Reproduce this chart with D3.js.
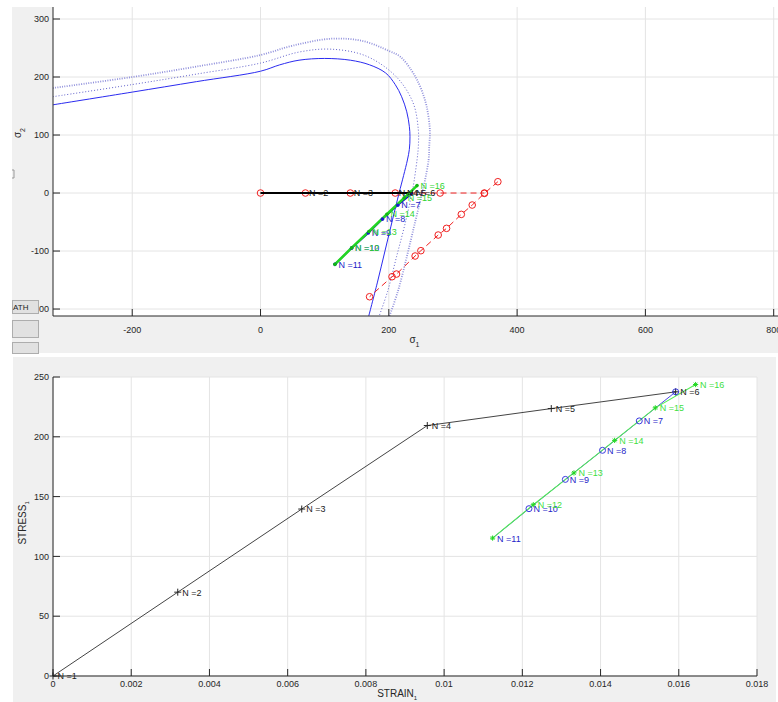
<!DOCTYPE html>
<html><head><meta charset="utf-8">
<script src="https://cdn.jsdelivr.net/npm/d3@7"></script>
<style>body{margin:0;background:#fff;} svg{display:block;font-family:"Liberation Sans",Arial,Helvetica,sans-serif;}</style>
</head><body><svg id="c" width="778" height="702"></svg>
<script>
// ---------------- DATA ----------------
// Top panel: yield surfaces in (sigma1, sigma2)
const yieldSolidS1 = [-324,-200,-100,0,30,60,100,140,170,195,210,220,228,232,233,232,229,223,216,206,194,182,168];
const yieldSolidS2 = [152,174,192,210,221,229,232,229,221,207,187,166,140,115,97,75,57,30,0,-45,-100,-155,-215];
const yieldInnerS1 = [-324,-200,-100,0,60,110,165,212,238,246,246,244,238,236,226,212,198,184];
const yieldInnerS2 = [166,187,205,224,243,248,236,200,155,109,80,57,11,0,-50,-110,-170,-215];
const yieldOuterS1 = [-324,-200,-100,0,50,110,160,200,218,235,244,252,259,264,263,262,256,252,241,228,214,200];
const yieldOuterS2 = [181,200,218,238,254,266,262,245,235,212,195,175,149,109,80,57,20,0,-50,-110,-170,-215];
// Trial (red dashed) paths
const redHS1 = [0,70,140,210,280,349];
const redHS2 = [0,0,0,0,0,0];
const redDS1 = [370,349,330,313,290,277,250,241,212,205,170];
const redDS2 = [19.5,-0.6,-20.7,-36.8,-60.9,-72.4,-99.4,-108.6,-139.7,-144.3,-178.8];
// Stress path in sigma-space
const blackN = [1,2,3,4,5,6];
const blackS1 = [0,70,140,210,223,237];
const blackS2 = [0,0,0,0,0,0];
const blueN = [6,7,8,9,10,11];
const blueS1 = [237,214,190,168,142,116];
const blueS2 = [0,-21,-45,-69,-95,-123];
const greenN = [11,12,13,14,15,16];
const greenS1 = [116,142,169,197,224,244];
const greenS2 = [-123,-94.6,-66.2,-36.7,-8.3,12.8];
// Bottom panel: stress-strain
const strainBlack = [0,0.00319,0.00636,0.00957,0.01274,0.01592];
const stressBlack = [0,70.1,139.6,209.4,223.6,237.6];
const strainBlue = [0.01592,0.01499,0.01405,0.0131,0.01217,0.01124];
const stressBlue = [237.6,213.3,188.7,164.4,139.9,115.3];
const strainGreen = [0.01124,0.01228,0.01332,0.01436,0.0154,0.01643];
const stressGreen = [115.3,143.2,169.8,197,224.2,243.7];
// Ticks
const s1Ticks = [-200,0,200,400,600,800];
const s2Ticks = [-200,-100,0,100,200,300];
const strainTicks = [0,0.002,0.004,0.006,0.008,0.01,0.012,0.014,0.016,0.018];
const strainTickLabels = ["0","0.002","0.004","0.006","0.008","0.01","0.012","0.014","0.016","0.018"];
const stressTicks = [0,50,100,150,200,250];

// ---------------- DRAW ----------------
const svg = d3.select("#c");
const AX = "#262626", GRID = "#e4e4e4", BG = "#f0f0f0";
const zip = (a,b)=>a.map((v,i)=>[v,b[i]]);

// backgrounds
svg.append("rect").attr("x",12).attr("y",7).attr("width",766).attr("height",346).attr("fill",BG);
svg.append("rect").attr("x",13).attr("y",357).attr("width",763).attr("height",345).attr("fill",BG);

// ===== TOP PANEL =====
const T = {l:53, r:778, t:7, b:316};
const x1 = d3.scaleLinear().domain([-323.5, 806.7]).range([T.l, T.r]);
const y1 = d3.scaleLinear().domain([-212, 320.7]).range([T.b, T.t]);
svg.append("rect").attr("x",T.l).attr("y",T.t).attr("width",T.r-T.l).attr("height",T.b-T.t).attr("fill","#fff");
svg.append("defs").append("clipPath").attr("id","clipT").append("rect")
  .attr("x",T.l).attr("y",T.t).attr("width",T.r-T.l).attr("height",T.b-T.t);
const gT = svg.append("g");
// grid
gT.selectAll(".gx").data(s1Ticks).enter().append("line")
  .attr("x1",d=>x1(d)).attr("x2",d=>x1(d)).attr("y1",T.t).attr("y2",T.b).attr("stroke",GRID);
gT.selectAll(".gy").data(s2Ticks).enter().append("line")
  .attr("x1",T.l).attr("x2",T.r).attr("y1",d=>y1(d)).attr("y2",d=>y1(d)).attr("stroke",GRID);

const pT = svg.append("g").attr("clip-path","url(#clipT)");
const lineT = d3.line().x(d=>x1(d[0])).y(d=>y1(d[1]));
const curveT = d3.line().x(d=>x1(d[0])).y(d=>y1(d[1])).curve(d3.curveCatmullRom.alpha(0.5));
// yield surfaces
pT.append("path").attr("d",curveT(zip(yieldOuterS1,yieldOuterS2))).attr("fill","none")
  .attr("stroke","#9191dc").attr("stroke-width",1.8).attr("stroke-dasharray","1,1.4");
pT.append("path").attr("d",curveT(zip(yieldInnerS1,yieldInnerS2))).attr("fill","none")
  .attr("stroke","#6262cc").attr("stroke-width",1).attr("stroke-dasharray","1,2");
pT.append("path").attr("d",curveT(zip(yieldSolidS1,yieldSolidS2))).attr("fill","none")
  .attr("stroke","#2b2bf0").attr("stroke-width",1);
// red trial paths
const RED = "#f02020";
pT.append("path").attr("d",lineT(zip(redHS1,redHS2))).attr("fill","none")
  .attr("stroke",RED).attr("stroke-width",1).attr("stroke-dasharray","6,4");
pT.append("path").attr("d",lineT(zip(redDS1,redDS2))).attr("fill","none")
  .attr("stroke",RED).attr("stroke-width",1).attr("stroke-dasharray","6,4");
pT.selectAll(".rc").data(zip(redHS1,redHS2).concat(zip(redDS1,redDS2))).enter().append("circle")
  .attr("cx",d=>x1(d[0])).attr("cy",d=>y1(d[1])).attr("r",3.3)
  .attr("fill","none").attr("stroke",RED).attr("stroke-width",1);
// black path
pT.append("path").attr("d",lineT(zip(blackS1,blackS2))).attr("fill","none")
  .attr("stroke","#000").attr("stroke-width",2);
// blue path
pT.append("path").attr("d",lineT(zip(blueS1,blueS2))).attr("fill","none")
  .attr("stroke","#1010c8").attr("stroke-width",1.6);
// green path
pT.append("path").attr("d",lineT(zip(greenS1,greenS2))).attr("fill","none")
  .attr("stroke","#22d622").attr("stroke-width",2.6);
// markers
pT.selectAll(".bd").data(zip(blueS1,blueS2).slice(1)).enter().append("circle")
  .attr("cx",d=>x1(d[0])).attr("cy",d=>y1(d[1])).attr("r",1.8).attr("fill","#1a1ad0");
pT.selectAll(".gd").data(zip(greenS1,greenS2)).enter().append("circle")
  .attr("cx",d=>x1(d[0])).attr("cy",d=>y1(d[1])).attr("r",1.8).attr("fill","#12b812");
// labels
function labelsT(S1,S2,N,from,color){
  for(let i=from;i<N.length;i++){
    pT.append("text").attr("x",x1(S1[i])+3.5).attr("y",y1(S2[i])).attr("dy","0.35em")
      .attr("font-size",9).attr("fill",color).text("N ="+N[i]);
  }
}
labelsT(blackS1,blackS2,blackN,1,"#111");
labelsT(blueS1,blueS2,blueN,1,"#2020c8");
labelsT(greenS1,greenS2,greenN,1,"#2ed42e");

// axes
svg.append("line").attr("x1",T.l).attr("x2",T.r).attr("y1",T.b).attr("y2",T.b).attr("stroke",AX);
svg.append("line").attr("x1",T.l).attr("x2",T.l).attr("y1",T.t).attr("y2",T.b).attr("stroke",AX);
svg.selectAll(".tx1").data(s1Ticks).enter().append("line")
  .attr("x1",d=>x1(d)).attr("x2",d=>x1(d)).attr("y1",T.b).attr("y2",T.b-7).attr("stroke",AX);
svg.selectAll(".ty1").data(s2Ticks).enter().append("line")
  .attr("x1",T.l).attr("x2",T.l+7).attr("y1",d=>y1(d)).attr("y2",d=>y1(d)).attr("stroke",AX);
svg.selectAll(".lx1").data(s1Ticks).enter().append("text")
  .attr("x",d=>x1(d)).attr("y",T.b+17).attr("text-anchor","middle").attr("font-size",9).attr("fill",AX).text(d=>d);
svg.selectAll(".ly1").data(s2Ticks).enter().append("text")
  .attr("x",T.l-4).attr("y",d=>y1(d)).attr("dy","0.35em").attr("text-anchor","end").attr("font-size",9).attr("fill",AX).text(d=>d);
// axis labels
const xl1 = svg.append("text").attr("x",x1(240)).attr("y",343).attr("text-anchor","middle").attr("font-size",10).attr("fill",AX);
xl1.append("tspan").text("σ");
xl1.append("tspan").attr("dy",4).attr("font-size",7).text("1");
const yl1 = svg.append("text").attr("transform",`translate(21,133) rotate(-90)`).attr("text-anchor","middle").attr("font-size",10).attr("fill",AX);
yl1.append("tspan").text("σ");
yl1.append("tspan").attr("dy",4).attr("font-size",7).text("2");

// UI buttons on left strip
svg.append("path").attr("d","M12,170 H14 V178 H12").attr("fill","none").attr("stroke","#999");
const btns = [[300,13],[320,17],[342,11]];
btns.forEach((b,i)=>{
  svg.append("rect").attr("x",12.5).attr("y",b[0]+0.5).attr("width",26).attr("height",b[1])
    .attr("fill","#e1e1e1").attr("stroke","#adadad");
});
svg.append("text").attr("x",13).attr("y",309.5).attr("font-size",8).attr("fill","#222").text("ATH");

// ===== BOTTOM PANEL =====
const B = {l:53, r:757, t:377, b:676};
const x2 = d3.scaleLinear().domain([0,0.018]).range([B.l,B.r]);
const y2 = d3.scaleLinear().domain([0,250]).range([B.b,B.t]);
svg.append("rect").attr("x",B.l).attr("y",B.t).attr("width",B.r-B.l).attr("height",B.b-B.t).attr("fill","#fff");
svg.selectAll(".gx2").data(strainTicks).enter().append("line")
  .attr("x1",d=>x2(d)).attr("x2",d=>x2(d)).attr("y1",B.t).attr("y2",B.b).attr("stroke",GRID);
svg.selectAll(".gy2").data(stressTicks).enter().append("line")
  .attr("x1",B.l).attr("x2",B.r).attr("y1",d=>y2(d)).attr("y2",d=>y2(d)).attr("stroke",GRID);
const lineB = d3.line().x(d=>x2(d[0])).y(d=>y2(d[1]));
svg.append("path").attr("d",lineB(zip(strainBlack,stressBlack))).attr("fill","none").attr("stroke","#444").attr("stroke-width",1);
svg.append("path").attr("d",lineB(zip(strainBlue,stressBlue))).attr("fill","none").attr("stroke","#4a4ae8").attr("stroke-width",1);
svg.append("path").attr("d",lineB(zip(strainGreen,stressGreen))).attr("fill","none").attr("stroke","#55ee55").attr("stroke-width",1.1);
// markers
zip(strainBlack,stressBlack).forEach(d=>{
  const px=x2(d[0]), py=y2(d[1]);
  svg.append("path").attr("d",`M${px-3.5},${py}H${px+3.5}M${px},${py-3.5}V${py+3.5}`).attr("stroke","#222").attr("stroke-width",1);
});
zip(strainBlue,stressBlue).slice(0,5).forEach(d=>{
  svg.append("circle").attr("cx",x2(d[0])).attr("cy",y2(d[1])).attr("r",3).attr("fill","none").attr("stroke","#3a3ae0").attr("stroke-width",1);
});
zip(strainGreen,stressGreen).forEach(d=>{
  const px=x2(d[0]), py=y2(d[1]), s=2.6;
  svg.append("path").attr("d",`M${px-s},${py}H${px+s}M${px},${py-s}V${py+s}M${px-s*0.7},${py-s*0.7}L${px+s*0.7},${py+s*0.7}M${px-s*0.7},${py+s*0.7}L${px+s*0.7},${py-s*0.7}`)
    .attr("stroke","#22d822").attr("stroke-width",1);
});
function labelsB(X,Y,N,from,to,color){
  for(let i=from;i<to;i++){
    svg.append("text").attr("x",x2(X[i])+4.5).attr("y",y2(Y[i])).attr("dy","0.38em")
      .attr("font-size",9).attr("fill",color).text("N ="+N[i]);
  }
}
labelsB(strainBlack,stressBlack,blackN,0,6,"#222");
labelsB(strainBlue,stressBlue,blueN,1,6,"#2525c8");
labelsB(strainGreen,stressGreen,greenN,1,6,"#3ee03e");
// axes
svg.append("line").attr("x1",B.l).attr("x2",B.r).attr("y1",B.b).attr("y2",B.b).attr("stroke",AX);
svg.append("line").attr("x1",B.l).attr("x2",B.l).attr("y1",B.t).attr("y2",B.b).attr("stroke",AX);
svg.selectAll(".tx2").data(strainTicks).enter().append("line")
  .attr("x1",d=>x2(d)).attr("x2",d=>x2(d)).attr("y1",B.b).attr("y2",B.b-7).attr("stroke",AX);
svg.selectAll(".ty2").data(stressTicks).enter().append("line")
  .attr("x1",B.l).attr("x2",B.l+7).attr("y1",d=>y2(d)).attr("y2",d=>y2(d)).attr("stroke",AX);
svg.selectAll(".lx2").data(strainTicks).enter().append("text")
  .attr("x",d=>x2(d)).attr("y",B.b+11).attr("text-anchor","middle").attr("font-size",9).attr("fill",AX)
  .text((d,i)=>strainTickLabels[i]);
svg.selectAll(".ly2").data(stressTicks).enter().append("text")
  .attr("x",B.l-4).attr("y",d=>y2(d)).attr("dy","0.35em").attr("text-anchor","end").attr("font-size",9).attr("fill",AX).text(d=>d);
const xl2 = svg.append("text").attr("x",x2(0.0088)).attr("y",697).attr("text-anchor","middle").attr("font-size",10).attr("fill",AX);
xl2.append("tspan").text("STRAIN");
xl2.append("tspan").attr("dy",3).attr("font-size",6).text("1");
const yl2 = svg.append("text").attr("transform",`translate(25.5,${y2(128)}) rotate(-90)`).attr("text-anchor","middle").attr("font-size",10).attr("fill",AX);
yl2.append("tspan").text("STRESS");
yl2.append("tspan").attr("dy",3).attr("font-size",6).text("1");
</script></body></html>
